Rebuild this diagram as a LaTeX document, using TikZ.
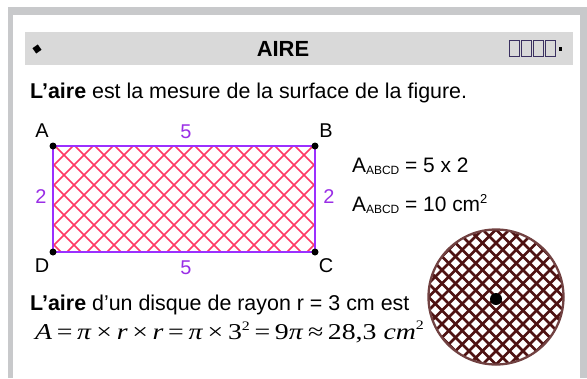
\documentclass[tikz,border=0pt]{standalone}
\usepackage{fontspec}
\usetikzlibrary{calc}
\setmainfont{Liberation Sans}
\newfontfamily\serifface{Liberation Serif}
\definecolor{framegray}{HTML}{C8C9CB}
\definecolor{headgray}{HTML}{D9D9D9}
\definecolor{violetline}{HTML}{9B30FF}
\definecolor{violettext}{HTML}{9A2EE6}
\definecolor{hatchpink}{HTML}{FF3A64}
\definecolor{maroon}{HTML}{4E1212}
\definecolor{tofu}{HTML}{3A3060}
\begin{document}
\begin{tikzpicture}[x=1bp,y=-1bp,
  body/.style={inner sep=0pt,anchor=base west,font=\fontsize{21.5}{24}\selectfont},
  vlabel/.style={inner sep=0pt,font=\fontsize{20}{22}\selectfont},
  dimlabel/.style={inner sep=0pt,text=violettext,font=\fontsize{20}{22}\selectfont},
  vdot/.style={fill=black,circle,inner sep=0pt,minimum size=7bp},
  tofubox/.style={draw=tofu,line width=1bp,inner sep=0pt,minimum width=10bp,minimum height=16bp}]
\useasboundingbox (0,0) rectangle (587,378);
% frame
\fill[framegray] (8,7) rectangle (587,378);
\fill[white] (13,15) rectangle (580,378);
% header
\fill[headgray] (25,32) rectangle (573,65);
\node[fill=black,minimum size=6.5bp,inner sep=0pt,rotate=35] (bullet) at (37,49) {};
\node[inner sep=0pt,anchor=base,font=\bfseries\fontsize{22}{24}\selectfont] (title) at (283,56) {AIRE};
\node[tofubox] (t1) at (514,48) {};
\node[tofubox] (t2) at (526,48) {};
\node[tofubox] (t3) at (538,48) {};
\node[tofubox] (t4) at (550,48) {};
\node[fill=black,minimum width=3bp,minimum height=4.5bp,inner sep=0pt] (t5) at (560,49) {};
% first line
\node[body] (def) at (30,98) {\textbf{L’aire} est la mesure de la surface de la figure.};
% rectangle
\coordinate (A) at (53,146);
\coordinate (B) at (315,146);
\coordinate (C) at (315,252);
\coordinate (D) at (53,252);
\begin{scope}
  \clip (A) rectangle (C);
  \foreach \x in {-65,-45,...,330} {
    \draw[hatchpink,line width=1.6bp] (\x,146) -- ++(106,106);
  }
  \foreach \x in {53,73,...,440} {
    \draw[hatchpink,line width=1.6bp] (\x,146) -- ++(-106,106);
  }
\end{scope}
\draw[violetline,line width=2bp] (A) -- (B) -- (C) -- (D) -- cycle;
\foreach \p in {A,B,C,D} \node[vdot] at (\p) {};
\node[vlabel] (lA) at (42,131) {A};
\node[vlabel] (lB) at (326,131) {B};
\node[vlabel] (lC) at (326,266) {C};
\node[vlabel] (lD) at (42,266) {D};
\node[dimlabel] (top5) at (186,132) {5};
\node[dimlabel] (bot5) at (186,268) {5};
\node[dimlabel] (left2) at (41,197) {2};
\node[dimlabel] (right2) at (329,197) {2};
% area text
\node[body,font=\fontsize{21}{24}\selectfont] (area1) at (352,172.5) {A\raisebox{-1.5bp}{\fontsize{12}{12}\selectfont ABCD} = 5 x 2};
\node[body,font=\fontsize{21}{24}\selectfont] (area2) at (352,211.5) {A\raisebox{-1.5bp}{\fontsize{12}{12}\selectfont ABCD} = 10 cm\raisebox{8bp}{\fontsize{13}{13}\selectfont 2}};
% disc
\coordinate (O) at (496,297);
\begin{scope}
  \clip (O) circle (68);
  \foreach \k in {-12,...,12} {
    \draw[maroon,line width=2.7bp] ($(O)+(\k*13.5,0)+(-80,-80)$) -- ++(160,160);
    \draw[maroon,line width=2.7bp] ($(O)+(\k*13.5,0)+(80,-80)$) -- ++(-160,160);
  }
\end{scope}
\draw[maroon!80!white,line width=2.3bp] (O) circle (67.5);
\node[fill=black,circle,inner sep=0pt,minimum size=12bp] (centre) at (496,299) {};
% disc text
\node[body] (disc) at (30,310.5) {\textbf{L’aire} d’un disque de rayon r = 3 cm est};
\node[inner sep=0pt,anchor=base west,font=\serifface\fontsize{22.7}{24}\selectfont] (formula) at (35,339)
  {\scalebox{1.23}[1]{\textit{A}\,=\,\textit{π}\,×\,\textit{r}\,×\,\textit{r}\,=\,\textit{π}\,×\,3\raisebox{8.5bp}{\fontsize{13}{13}\selectfont 2}\,=\,9\textit{π}\,≈\,28,3 \textit{cm}\raisebox{9.5bp}{\fontsize{13}{13}\selectfont 2}}};
\end{tikzpicture}
\end{document}
